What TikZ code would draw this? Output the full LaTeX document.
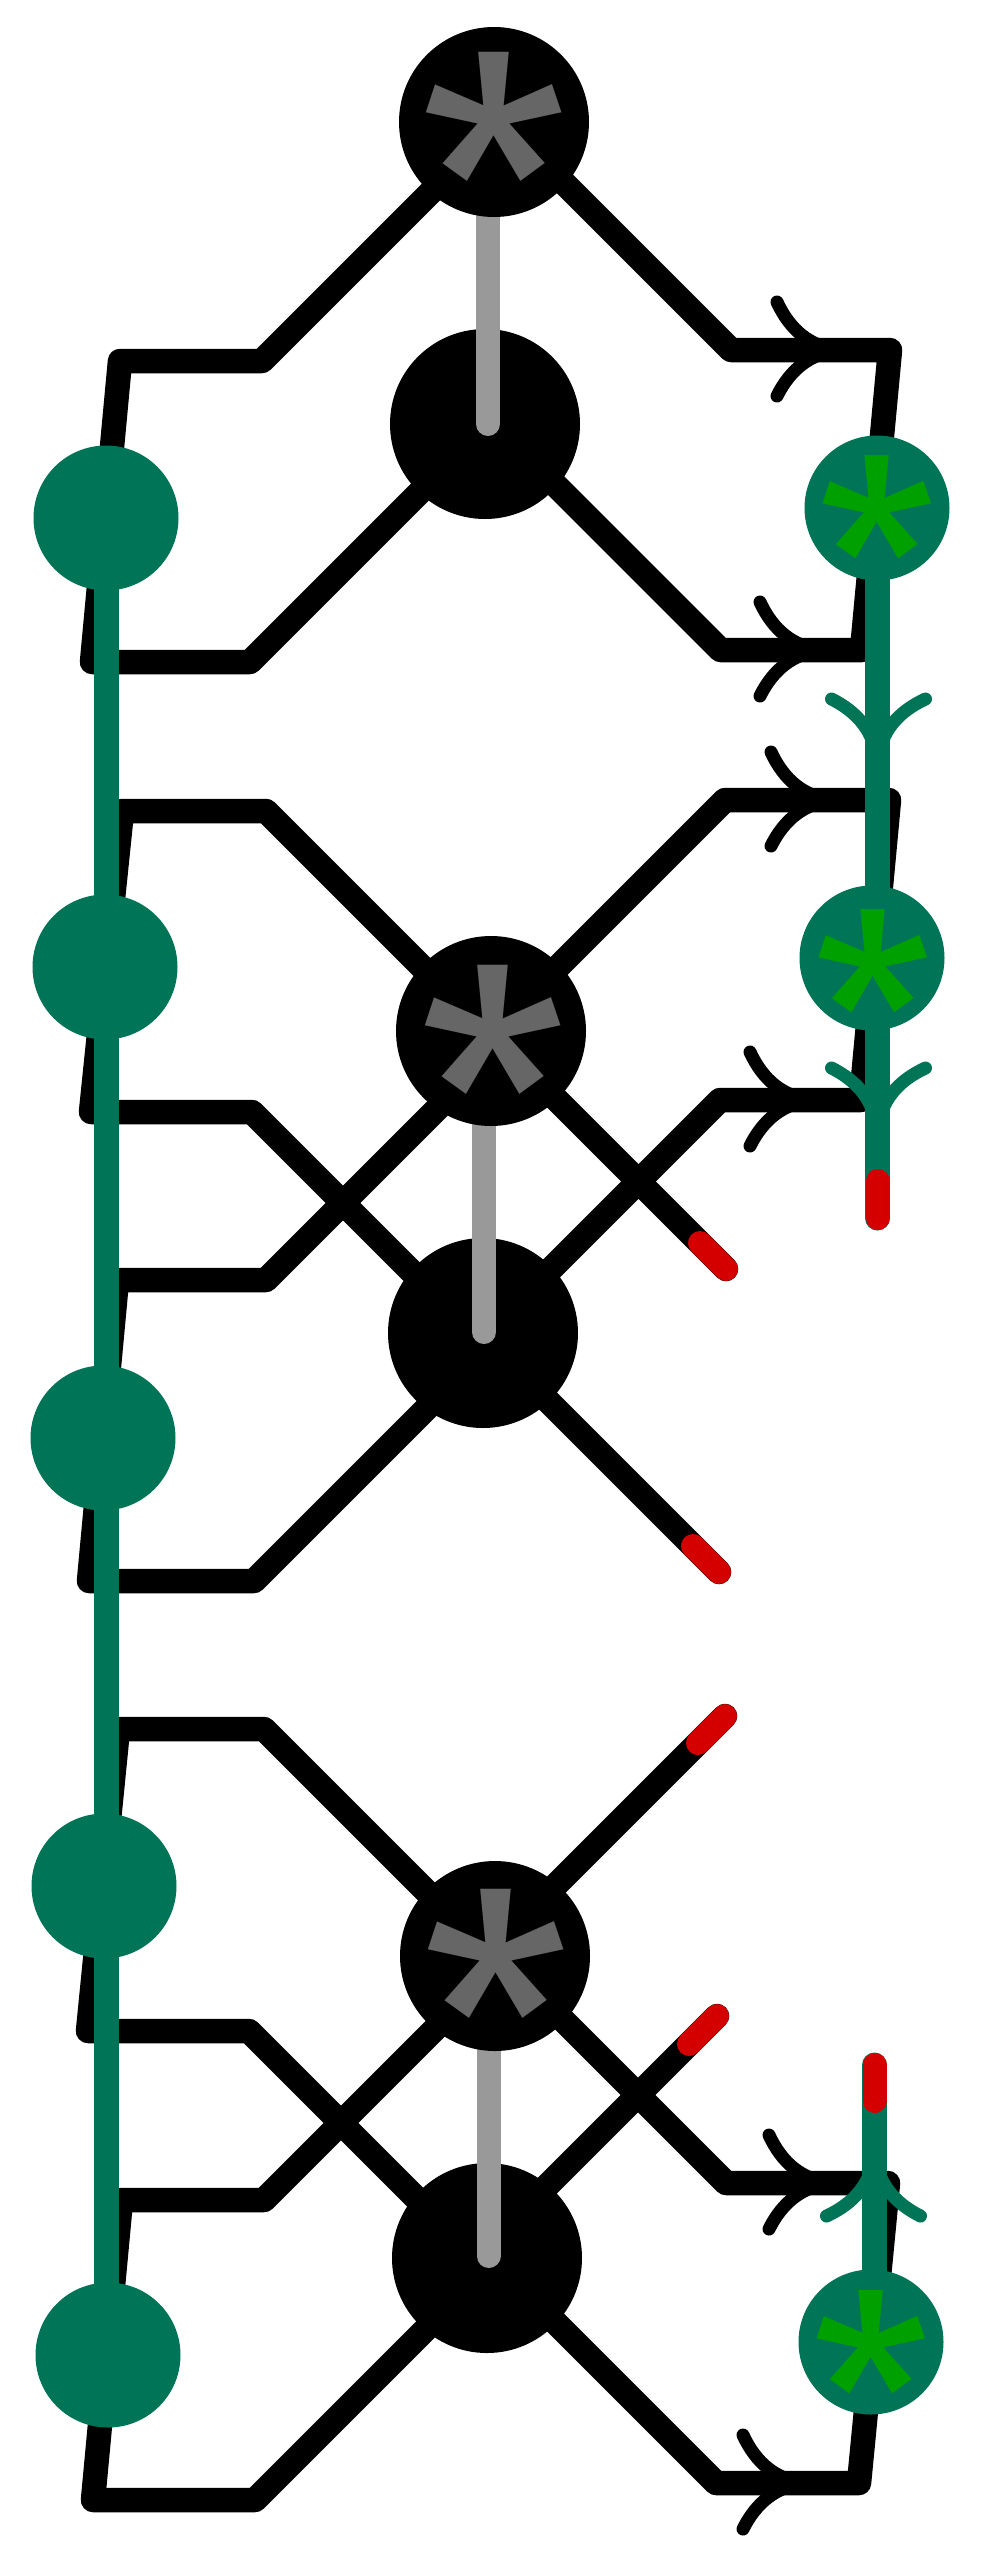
\documentclass[tikz,border=0pt]{standalone}
\usepackage{fontspec}
\setmainfont{Fira Sans}
\pgfdeclarelayer{wires}\pgfdeclarelayer{low}\pgfdeclarelayer{grey}\pgfdeclarelayer{green}
\pgfsetlayers{wires,low,grey,green,main}
\definecolor{wgreen}{RGB}{0,116,86}
\definecolor{wred}{RGB}{212,0,0}
\definecolor{wgrey}{RGB}{153,153,153}
\definecolor{sgrey}{RGB}{102,102,102}
\definecolor{sgreen}{RGB}{0,160,0}
\tikzset{
  wire/.style={line width=24.5pt,line cap=round,line join=round,black},
  gline/.style={line width=25pt,line cap=round,line join=round,wgreen},
  greyline/.style={line width=24pt,line cap=round,wgrey},
  redline/.style={line width=24pt,line cap=round,wred},
  blackdot/.style={circle,fill=black,draw=none,inner sep=0pt,minimum size=190pt},
  greendot/.style={circle,fill=wgreen,draw=none,inner sep=0pt,minimum size=145pt},
  bigstar/.style={anchor=base,inner sep=0pt,text=sgrey,font=\fontsize{340}{340}\selectfont},
  smallstar/.style={anchor=base,inner sep=0pt,text=sgreen,font=\fontsize{272}{272}\selectfont},
  barbs/.pic={
    \draw[line width=13pt,line cap=round,#1] (-63,-48) .. controls (-50,-20) and (-30,-3) .. (0,0);
    \draw[line width=13pt,line cap=round,#1] (-63,46) .. controls (-50,20) and (-30,3) .. (0,0);
  }
}
\begin{document}
\begin{tikzpicture}[x=1pt,y=-1pt]
\useasboundingbox (0,0) rectangle (1000,2575);
% black nodes
\node[blackdot] (s1) at (494,122) {};
\node[blackdot] (s2) at (491,1031) {};
\node[blackdot] (s3) at (495,1956) {};
\begin{pgfonlayer}{low}
\node[blackdot] (b1) at (485,424) {};
\node[blackdot] (b2) at (483,1333) {};
\node[blackdot] (b3) at (487,2258) {};
\end{pgfonlayer}
% green nodes
\node[greendot] (l1) at (106,518) {};
\node[greendot] (l2) at (105,967) {};
\node[greendot] (l3) at (103,1438) {};
\node[greendot] (l4) at (104,1886) {};
\node[greendot] (l5) at (108,2355) {};
\node[greendot] (r1) at (877,508) {};
\node[greendot] (r2) at (872,958) {};
\node[greendot] (r3) at (871,2342) {};
% asterisks
\node[bigstar] (t1) at (494.5,303) {*};
\node[bigstar] (t2) at (493.5,1216) {*};
\node[bigstar] (t3) at (496,2140) {*};
\node[smallstar] (t4) at (877,656) {*};
\node[smallstar] (t5) at (873.5,1110) {*};
\node[smallstar] (t6) at (871.5,2491) {*};
% corner coordinates
\coordinate (a1) at (262,361);\coordinate (a2) at (120,361);\coordinate (a3) at (92,662);\coordinate (a4) at (250,662);
\coordinate (c1) at (731,350);\coordinate (c2) at (890,350);\coordinate (c3) at (862,650);\coordinate (c4) at (720.5,650);
\coordinate (d1) at (266,811);\coordinate (d2) at (122,811);\coordinate (d3) at (91,1112);\coordinate (d4) at (252,1112);
\coordinate (e1) at (266,1280);\coordinate (e2) at (117,1280);\coordinate (e3) at (89,1581);\coordinate (e4) at (254,1581);
\coordinate (f1) at (725,800);\coordinate (f2) at (889,800);\coordinate (f3) at (861,1100);\coordinate (f4) at (720,1100);
\coordinate (g1) at (726,1269);\coordinate (g2) at (700,1243);
\coordinate (h1) at (719,1572);\coordinate (h2) at (693,1546);
\coordinate (i1) at (264,1729);\coordinate (i2) at (118,1729);\coordinate (i3) at (88,2031);\coordinate (i4) at (249,2031);
\coordinate (j1) at (264,2200);\coordinate (j2) at (121,2200);\coordinate (j3) at (93,2500);\coordinate (j4) at (255,2500);
\coordinate (k1) at (725,1716);\coordinate (k2) at (698,1743);
\coordinate (m1) at (717,2016);\coordinate (m2) at (689,2044);
\coordinate (n1) at (726,2183);\coordinate (n2) at (888,2183);\coordinate (n3) at (859,2483);\coordinate (n4) at (716,2483);
% arrow tips
\coordinate (p1) at (840,350);\coordinate (p2) at (823,650);\coordinate (p3) at (834,800);
\coordinate (p4) at (813,1100);\coordinate (p5) at (832,2183);\coordinate (p6) at (806,2483);
\coordinate (q1) at (877.5,762);\coordinate (q2) at (877.5,1131);\coordinate (q3) at (874.5,2153);
\begin{pgfonlayer}{wires}
\draw[wire] ([shift={(7,0)}]s1.center) -- (a1) -- (a2) -- (a3) -- (a4) -- ([shift={(3,0)}]b1.center);
\draw[wire] ([shift={(9,0)}]s1.center) -- (c1) -- (c2) -- (c3) -- (c4) -- ([shift={(9.5,0)}]b1.center);
\draw[wire] ([shift={(-5,0)}]s2.center) -- (d1) -- (d2) -- (d3) -- (d4) -- ([shift={(-10,0)}]b2.center);
\draw[wire] ([shift={(24,0)}]s2.center) -- (e1) -- (e2) -- (e3) -- (e4) -- ([shift={(19,0)}]b2.center);
\draw[wire] ([shift={(3,0)}]s2.center) -- (f1) -- (f2) -- (f3) -- (f4) -- ([shift={(4,0)}]b2.center);
\draw[wire] ([shift={(-3,0)}]s2.center) -- (g1);
\draw[wire] ([shift={(-3,0)}]b2.center) -- (h1);
\draw[wire] ([shift={(-4,0)}]s3.center) -- (i1) -- (i2) -- (i3) -- (i4) -- ([shift={(-11,0)}]b3.center);
\draw[wire] ([shift={(13,0)}]s3.center) -- (j1) -- (j2) -- (j3) -- (j4) -- ([shift={(10,0)}]b3.center);
\draw[wire] ([shift={(-10,0)}]s3.center) -- (k1);
\draw[wire] ([shift={(-12,0)}]b3.center) -- (m1);
\draw[wire] ([shift={(4,0)}]s3.center) -- (n1) -- (n2) -- (n3) -- (n4) -- ([shift={(4,0)}]b3.center);
\foreach \t in {p1,p2,p3,p4,p5,p6} \pic at (\t) {barbs=black};
\end{pgfonlayer}
\begin{pgfonlayer}{grey}
\draw[greyline] (488,122) -- (488,424);
\draw[greyline] (484,1031) -- (484,1332);
\draw[greyline] (488.5,1956) -- (488.5,2256);
\end{pgfonlayer}
\begin{pgfonlayer}{green}
\draw[gline] (106,518) -- (106,2355);
\draw[gline] (877.5,508) -- (877.5,1218);
\draw[gline] (874.5,2342) -- (874.5,2065);
\foreach \t in {q1,q2} \pic[rotate=-90] at (\t) {barbs=wgreen};
\pic[rotate=90] at (q3) {barbs=wgreen};
\end{pgfonlayer}
% red ends
\draw[redline] (877.5,1181) -- (877.5,1218);
\draw[redline] (874.5,2065) -- (874.5,2101);
\draw[redline] (g2) -- (g1);
\draw[redline] (h2) -- (h1);
\draw[redline] (k2) -- (k1);
\draw[redline] (m2) -- (m1);
\end{tikzpicture}
\end{document}
